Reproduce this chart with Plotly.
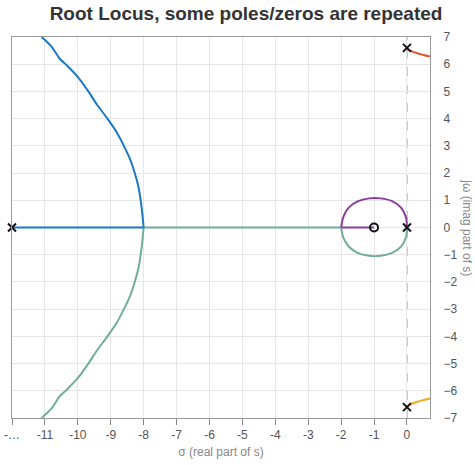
import plotly.graph_objects as go

# --- data ---
# real-axis segments (straight)
blue_axis_re = [-12, -8]
blue_axis_im = [0, 0]
green_axis_re = [-8, -2]
green_axis_im = [0, 0]
purple_axis_re = [-2, -1]
purple_axis_im = [0, 0]

# complex branches (curved)
blue_re = [-8.0, -8.04, -8.09, -8.16, -8.27, -8.41, -8.6, -8.82, -9.1, -9.41, -9.68, -9.98, -10.33, -10.55, -10.8, -11.1]
blue_im = [0.0, 0.5, 1.0, 1.5, 2.0, 2.5, 3.0, 3.5, 4.0, 4.5, 5.0, 5.5, 5.95, 6.2, 6.65, 7.0]

green_re = [-8.0, -8.04, -8.09, -8.16, -8.27, -8.41, -8.6, -8.82, -9.1, -9.41, -9.68, -9.98, -10.33, -10.55, -10.8, -11.1]
green_im = [0.0, -0.5, -1.0, -1.5, -2.0, -2.5, -3.0, -3.5, -4.0, -4.5, -5.0, -5.5, -5.95, -6.2, -6.65, -7.0]

purple_loop_re = [0, -0.03, -0.18, -0.45, -0.8, -1.15, -1.5, -1.77, -1.93, -2.0]
purple_loop_im = [0, 0.38, 0.73, 0.97, 1.07, 1.07, 0.96, 0.73, 0.4, 0]

green_loop_re = [0, -0.03, -0.18, -0.45, -0.8, -1.15, -1.5, -1.77, -1.93, -2.0]
green_loop_im = [0, -0.36, -0.7, -0.93, -1.04, -1.04, -0.93, -0.7, -0.38, 0]

orange_re = [0, 0.1, 0.29, 0.5, 0.7]
orange_im = [6.57, 6.5, 6.41, 6.34, 6.28]

yellow_re = [0, 0.1, 0.29, 0.5, 0.7]
yellow_im = [-6.57, -6.5, -6.41, -6.34, -6.28]

pole_re = [-12, 0, 0, 0]
pole_im = [0, 0, 6.6, -6.6]
zero_re = [-1]
zero_im = [0]

x_ticks = [-12, -11, -10, -9, -8, -7, -6, -5, -4, -3, -2, -1, 0]
x_ticktext = ["-…", "-11", "-10", "-9", "-8", "-7", "-6", "-5", "-4", "-3", "-2", "-1", "0"]
y_ticks = [-7, -6, -5, -4, -3, -2, -1, 0, 1, 2, 3, 4, 5, 6, 7]

title_text = "Root Locus, some poles/zeros are repeated"
x_title = "σ (real part of s)"
y_title = "jω (imag part of s)"

FONT = "Liberation Sans, Arial, sans-serif"

BLUE = "#1b78c6"
GREEN = "#72ae96"
PURPLE = "#8c3c9e"
ORANGE = "#e2582a"
YELLOW = "#f2a81a"

fig = go.Figure()

# dashed reference axes
fig.add_shape(type="line", x0=0, x1=0, y0=-7, y1=7, xref="x", yref="y",
              line=dict(color="#888888", width=1, dash="dash"), layer="below")
fig.add_shape(type="line", x0=-12, x1=0.7, y0=0, y1=0, xref="x", yref="y",
              line=dict(color="#888888", width=1, dash="dash"), layer="below")

def seg(xs, ys, color, curved):
    line = dict(color=color, width=2)
    if curved:
        line.update(shape="spline", smoothing=0.8)
    fig.add_trace(go.Scatter(x=xs, y=ys, mode="lines", line=line,
                             hoverinfo="skip", showlegend=False))

seg(green_axis_re, green_axis_im, GREEN, False)
seg(green_re, green_im, GREEN, True)
seg(green_loop_re, green_loop_im, GREEN, True)
seg(blue_axis_re, blue_axis_im, BLUE, False)
seg(blue_re, blue_im, BLUE, True)
seg(purple_loop_re, purple_loop_im, PURPLE, True)
seg(purple_axis_re, purple_axis_im, PURPLE, False)
seg(orange_re, orange_im, ORANGE, True)
seg(yellow_re, yellow_im, YELLOW, True)

fig.add_trace(go.Scatter(x=pole_re, y=pole_im, mode="markers",
                         marker=dict(symbol="x-thin", size=8, line=dict(color="#111111", width=2)),
                         showlegend=False, cliponaxis=False))
fig.add_trace(go.Scatter(x=zero_re, y=zero_im, mode="markers",
                         marker=dict(symbol="circle-open", size=8, color="#111111", line=dict(width=2)),
                         showlegend=False))

fig.update_layout(
    width=475, height=465,
    margin=dict(l=12, r=45, t=37, b=47),
    paper_bgcolor="white", plot_bgcolor="white",
    font=dict(family=FONT, size=12, color="#555555"),
    title=dict(text="<b>" + title_text + "</b>", x=0.518, xref="container", xanchor="center",
               y=0.972, yref="container", yanchor="middle",
               font=dict(family=FONT, size=19, color="#333333")),
    showlegend=False,
)

fig.update_xaxes(range=[-12, 0.7], tickvals=x_ticks, ticktext=x_ticktext, automargin=False,
                 showgrid=True, gridcolor="#e6e6e6", gridwidth=1, zeroline=False,
                 showline=True, linecolor="#999999", linewidth=1, mirror=True,
                 ticks="outside", ticklen=6, tickcolor="#888888",
                 title=dict(text=x_title, font=dict(size=12, color="#888888"), standoff=6))
fig.update_yaxes(range=[-7, 7], tickvals=y_ticks, side="right", automargin=False,
                 showgrid=True, gridcolor="#e6e6e6", gridwidth=1, zeroline=False,
                 showline=True, linecolor="#999999", linewidth=1, mirror=True,
                 ticks="", ticklabelstandoff=10)

fig.add_annotation(text=y_title, xref="paper", yref="paper", x=1.089, y=0.5,
                   textangle=90, showarrow=False, xanchor="center", yanchor="middle",
                   font=dict(size=12, color="#888888"))

fig.write_html("out.html")
